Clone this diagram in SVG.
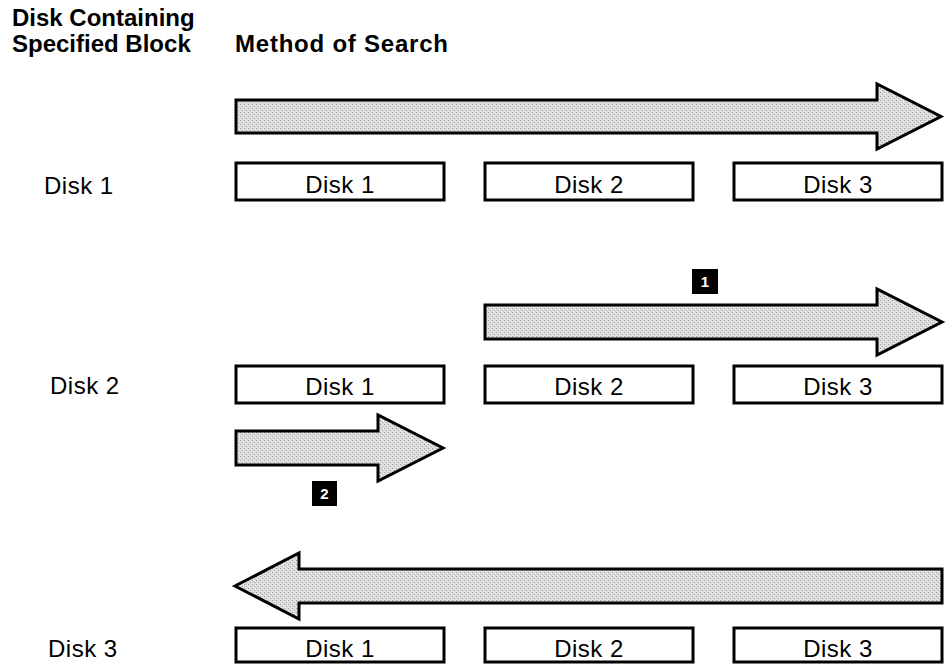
<svg xmlns="http://www.w3.org/2000/svg" width="946" height="665" viewBox="0 0 946 665">
<defs>
<pattern id="stip" width="4" height="4" patternUnits="userSpaceOnUse">
<rect width="4" height="4" fill="#dcdcdc"/>
<rect x="0" y="0" width="1" height="1" fill="#9a9a9a"/>
<rect x="2" y="2" width="1" height="1" fill="#a8a8a8"/>
<rect x="3" y="1" width="1" height="1" fill="#f2f2f2"/>
<rect x="1" y="3" width="1" height="1" fill="#f0f0f0"/>
</pattern>
</defs>
<style>
.hd{font-family:"Liberation Sans",Arial,Helvetica,sans-serif;font-weight:bold;font-size:24px;fill:#000}
.lb{font-family:"Liberation Sans",Arial,Helvetica,sans-serif;font-size:24px;fill:#000;letter-spacing:0.5px}
.bx{fill:#fff;stroke:#000;stroke-width:3}
.ar{fill:url(#stip);stroke:#000;stroke-width:3;stroke-linejoin:miter}
.bg{fill:#000}
.bn{font-family:"Liberation Sans",Arial,Helvetica,sans-serif;font-weight:bold;font-size:15px;fill:#fff}
</style>
<rect width="946" height="665" fill="#fff"/>
<g id="header">
<text class="hd" x="12" y="26">Disk Containing</text>
<text class="hd" x="12" y="52">Specified Block</text>
<text class="hd" x="235" y="52" textLength="213" lengthAdjust="spacing">Method of Search</text>
</g>
<g id="row-labels">
<text class="lb" x="44" y="194">Disk 1</text>
<text class="lb" x="50" y="394">Disk 2</text>
<text class="lb" x="48" y="657">Disk 3</text>
</g>
<g id="connectors">
<polygon id="arrow-row1" class="ar" points="236,100 877,100 877,84 941,116.5 877,149 877,133 236,133"/>
<polygon id="arrow-row2-1" class="ar" points="485,305 877,305 877,289 942,322 877,355 877,339 485,339"/>
<polygon id="arrow-row2-2" class="ar" points="236,431 378,431 378,415 443,448 378,481 378,465 236,465"/>
<polygon id="arrow-row3" class="ar" points="942,569 299,569 299,553 235,586 299,619 299,603 942,603"/>
</g>
<g id="badge-1">
<rect class="bg" x="692" y="269" width="26" height="25"/>
<text class="bn" x="705" y="287" text-anchor="middle">1</text>
</g>
<g id="badge-2">
<rect class="bg" x="312" y="481" width="25" height="25"/>
<text class="bn" x="324.5" y="499" text-anchor="middle">2</text>
</g>
<g id="row1-disk1"><rect class="bx" x="236" y="163" width="208" height="37"/><text class="lb" x="340" y="193" text-anchor="middle">Disk 1</text></g>
<g id="row1-disk2"><rect class="bx" x="485" y="163" width="208" height="37"/><text class="lb" x="589" y="193" text-anchor="middle">Disk 2</text></g>
<g id="row1-disk3"><rect class="bx" x="734" y="163" width="208" height="37"/><text class="lb" x="838" y="193" text-anchor="middle">Disk 3</text></g>
<g id="row2-disk1"><rect class="bx" x="236" y="366" width="208" height="37"/><text class="lb" x="340" y="395" text-anchor="middle">Disk 1</text></g>
<g id="row2-disk2"><rect class="bx" x="485" y="366" width="208" height="37"/><text class="lb" x="589" y="395" text-anchor="middle">Disk 2</text></g>
<g id="row2-disk3"><rect class="bx" x="734" y="366" width="208" height="37"/><text class="lb" x="838" y="395" text-anchor="middle">Disk 3</text></g>
<g id="row3-disk1"><rect class="bx" x="236" y="628" width="208" height="34"/><text class="lb" x="340" y="657" text-anchor="middle">Disk 1</text></g>
<g id="row3-disk2"><rect class="bx" x="485" y="628" width="208" height="34"/><text class="lb" x="589" y="657" text-anchor="middle">Disk 2</text></g>
<g id="row3-disk3"><rect class="bx" x="734" y="628" width="208" height="34"/><text class="lb" x="838" y="657" text-anchor="middle">Disk 3</text></g>
</svg>
